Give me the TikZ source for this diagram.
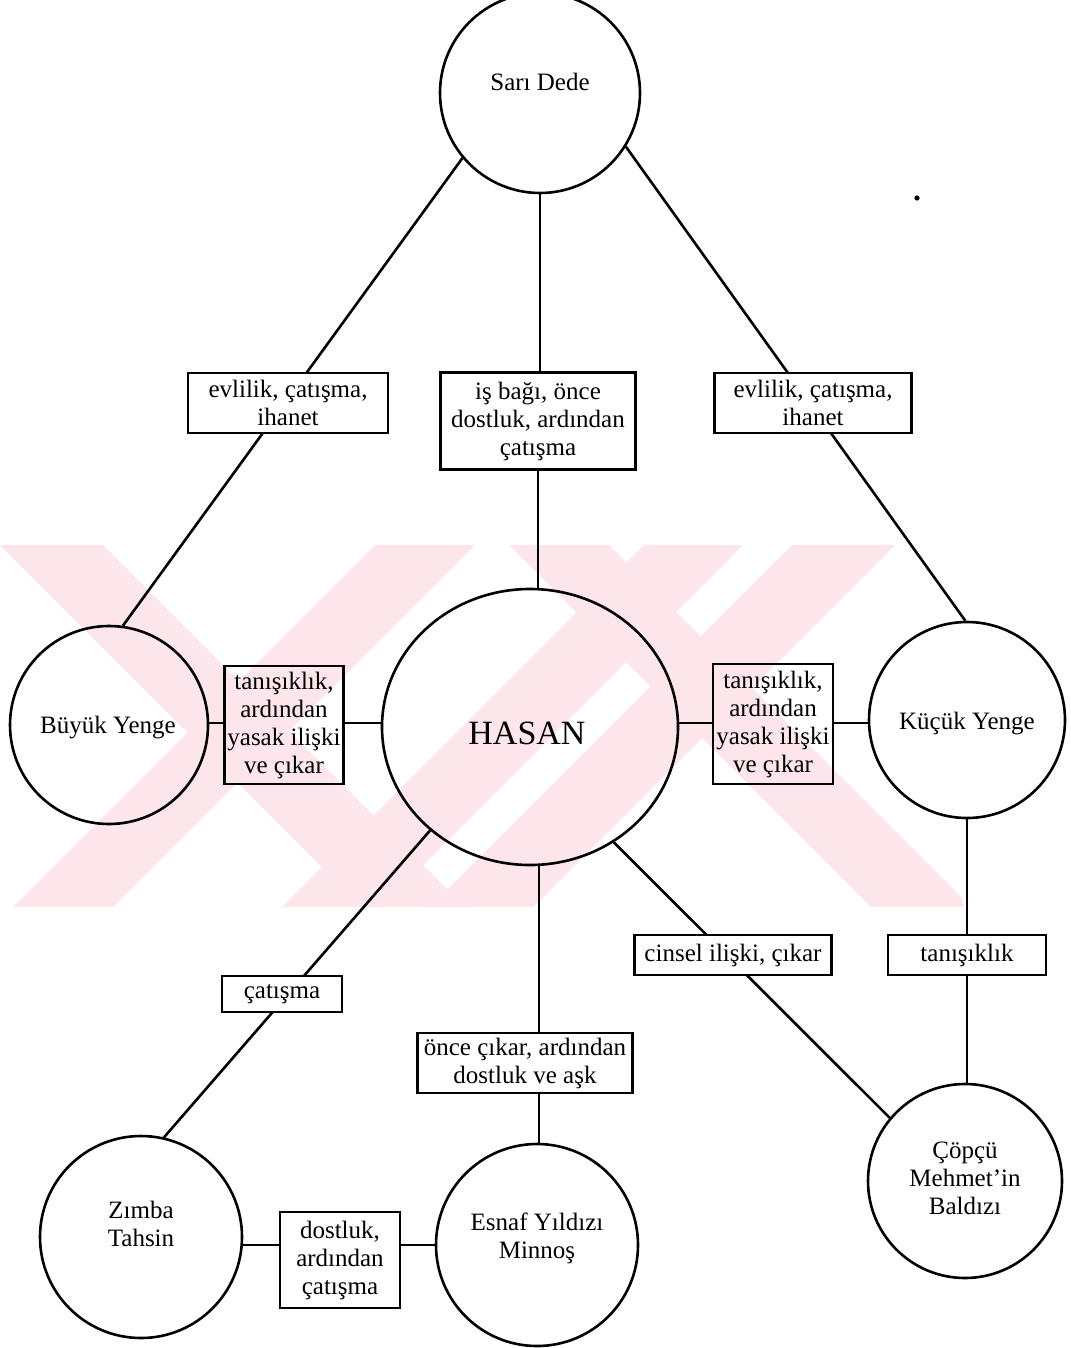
\documentclass[tikz,border=0pt]{standalone}
\usepackage{fontspec}
\setmainfont{Liberation Serif}
\usetikzlibrary{shapes.geometric}
\definecolor{wmpink}{RGB}{252,229,235}
\tikzset{
  person/.style={draw, circle, line width=1.3pt, minimum size=100pt, inner sep=0pt},
  who/.style={font=\fontsize{12.5}{14}\selectfont, align=center, inner sep=0pt},
  rel/.style={draw, line width=1.2pt, fill=white, inner sep=0pt, align=center,
    font=\fontsize{12.5}{14}\selectfont},
  clearrel/.style={rel, fill=none},
  link/.style={line width=1.3pt},
  band/.style={fill=wmpink, draw=none}
}
\begin{document}
\begin{tikzpicture}[x=0.5pt,y=-0.5pt]
\useasboundingbox (0,0) rectangle (1070,1348);

% background emblem stripes
\begin{scope}
  \clip (0,545) -- (895,545) -- (964,907) -- (0,907) -- cycle;
  \fill[band] (0,545) -- (103,545) -- (465,907) -- (362,907) -- cycle;
  \fill[band] (375,545) -- (475,545) -- (113,907) -- (13,907) -- cycle;
  \fill[band] (509,545) -- (609,545) -- (971,907) -- (871,907) -- cycle;
  \fill[band] (644,545) -- (743,545) -- (381,907) -- (282,907) -- cycle;
  \fill[band] (792,545) -- (895,545) -- (533,907) -- (430,907) -- cycle;
\end{scope}

% people
\node[person] (SD) at (540,93) {};
\node[person, ellipse, minimum width=148pt, minimum height=138pt] (H) at (530,727) {};
\node[person, minimum size=99pt] (BY) at (109,725) {};
\node[person, minimum size=98pt] (KY) at (967,720) {};
\node[person, minimum size=101pt] (ZT) at (141,1237) {};
\node[person, minimum size=101pt] (EM) at (537,1245) {};
\node[person, minimum size=97pt] (CB) at (965,1181) {};

% long diagonal connectors, passing under their relation boxes
\draw[link] (SD.220) -- (BY.82);
\draw[link] (SD.328) -- (KY.91);
\draw[link] (H.226) -- (ZT.77);
\draw[link] (H.306) -- (CB.140);

% names
\node[who] (SDt) at (540,82) {Sarı Dede};
\node[who, font=\fontsize{17}{20}\selectfont] (Ht) at (527,733) {HASAN};
\node[who] (BYt) at (108,728) {Büyük Yenge};
\node[who] (KYt) at (967,724) {Küçük Yenge};
\node[who] (ZTt) at (141,1224) {Zımba\\Tahsin};
\node[who] (EMt) at (537,1238) {Esnaf Yıldızı\\Minnoş};
\node[who] (CBt) at (965,1178) {Çöpçü\\Mehmet’in\\Baldızı};

% relations
\node[rel, minimum width=100pt, minimum height=30pt] (r1) at (288,403) {evlilik, çatışma,\\ihanet};
\node[rel, minimum width=97.5pt, minimum height=48.5pt] (r2) at (538,421) {iş bağı, önce\\dostluk, ardından\\çatışma};
\node[rel, minimum width=98.5pt, minimum height=30pt] (r3) at (813,403) {evlilik, çatışma,\\ihanet};
\node[clearrel, minimum width=59.5pt, minimum height=59pt] (r4) at (284,725) {tanışıklık,\\ardından\\yasak ilişki\\ve çıkar};
\node[clearrel, minimum width=60pt, minimum height=60pt] (r5) at (773,724) {tanışıklık,\\ardından\\yasak ilişki\\ve çıkar};
\node[rel, minimum width=98.5pt, minimum height=20pt] (r6) at (733,955) {cinsel ilişki, çıkar};
\node[rel, minimum width=79pt, minimum height=20pt] (r7) at (967,955) {tanışıklık};
\node[rel, minimum width=60pt, minimum height=18pt] (r8) at (282,994) {çatışma};
\node[rel, minimum width=107.5pt, minimum height=30pt] (r9) at (525,1063) {önce çıkar, ardından\\dostluk ve aşk};
\node[rel, minimum width=60pt, minimum height=48pt] (r10) at (340,1260) {dostluk,\\ardından\\çatışma};

% levels of the straight runs
\coordinate (vx) at (539,0);
\coordinate (hy) at (0,723);
\coordinate (by) at (0,1245);

% straight connectors
\draw[link] (SD.south) -- (SD.south |- r2.north);
\draw[link] (r2.south) -- (r2.south |- H.north);
\draw[link] (BY.east |- hy) -- (r4.west |- hy);
\draw[link] (r4.east |- hy) -- (H.west |- hy);
\draw[link] (H.east |- hy) -- (r5.west |- hy);
\draw[link] (r5.east |- hy) -- (KY.west |- hy);
\draw[link] (H.south -| vx) -- (r9.north -| vx);
\draw[link] (r9.south -| vx) -- (EM.north -| vx);
\draw[link] (KY.south) -- (KY.south |- r7.north);
\draw[link] (r7.south) -- (r7.south |- CB.north);
\draw[link] (ZT.east |- by) -- (r10.west |- by);
\draw[link] (r10.east |- by) -- (EM.west |- by);

% stray speck
\fill (917,198) circle (1.3pt);
\end{tikzpicture}
\end{document}
